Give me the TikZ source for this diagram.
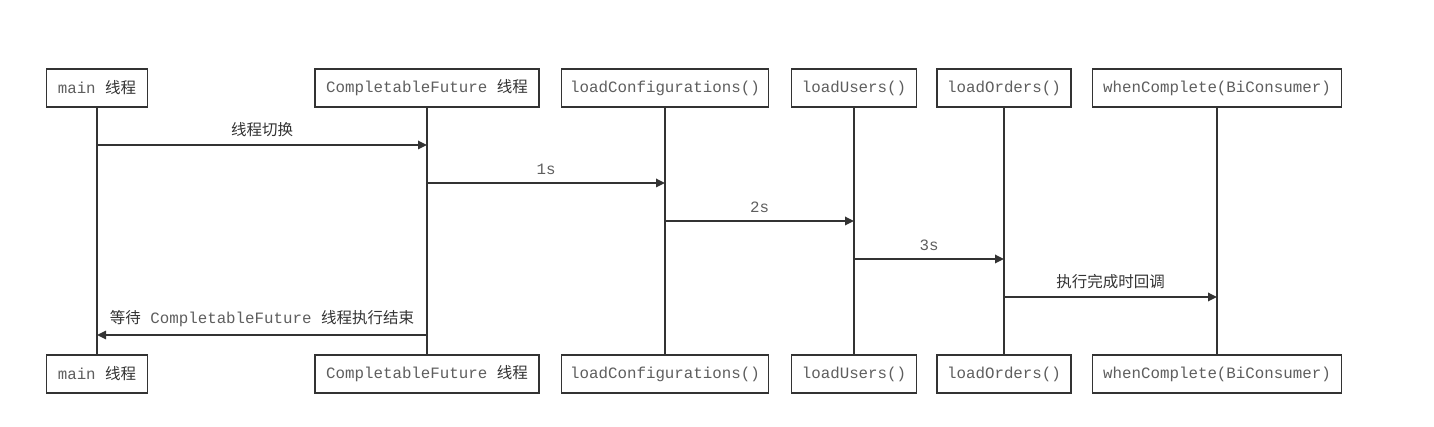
\documentclass[tikz,border=0pt]{standalone}
\usepackage{fontspec}
\newfontfamily\cjk{Noto Sans CJK SC}
\newfontfamily\mono{Liberation Mono}
\usetikzlibrary{arrows.meta}
\definecolor{ln}{HTML}{333333}
\definecolor{mt}{HTML}{5E5E5E}
\begin{document}
\begin{tikzpicture}[x=1pt,y=-1pt,
  box/.style={draw=ln,line width=1.7pt,minimum height=38pt,inner sep=0pt,fill=white},
  life/.style={draw=ln,line width=1.7pt},
  msg/.style={draw=ln,line width=1.7pt,-{Triangle[length=9pt,width=8.5pt]}},
  lbl/.style={inner sep=0pt,anchor=base},
]
\useasboundingbox (0,0) rectangle (1434,427);
\newcommand\cn[1]{{\cjk\fontsize{15.5}{18}\selectfont\color{ln}#1}}
\newcommand\mn[1]{{\mono\fontsize{15.8}{18}\selectfont\color{mt}#1}}
\newcommand\ms{{\mono\fontsize{15.8}{18}\selectfont\ }}
% top boxes
\node[box,minimum width=101pt] (mainT) at (97,88) {\mn{main}\ms\cn{线程}};
\node[box,minimum width=224pt] (cfT) at (427,88) {\mn{CompletableFuture}\ms\cn{线程}};
\node[box,minimum width=207pt] (lcT) at (665,88) {\mn{loadConfigurations()}};
\node[box,minimum width=125pt] (luT) at (854,88) {\mn{loadUsers()}};
\node[box,minimum width=134pt] (loT) at (1004,88) {\mn{loadOrders()}};
\node[box,minimum width=249pt] (wcT) at (1217,88) {\mn{whenComplete(BiConsumer)}};
% bottom boxes
\node[box,minimum width=101pt] (mainB) at (97,374) {\mn{main}\ms\cn{线程}};
\node[box,minimum width=224pt] (cfB) at (427,374) {\mn{CompletableFuture}\ms\cn{线程}};
\node[box,minimum width=207pt] (lcB) at (665,374) {\mn{loadConfigurations()}};
\node[box,minimum width=125pt] (luB) at (854,374) {\mn{loadUsers()}};
\node[box,minimum width=134pt] (loB) at (1004,374) {\mn{loadOrders()}};
\node[box,minimum width=249pt] (wcB) at (1217,374) {\mn{whenComplete(BiConsumer)}};
% lifelines
\draw[life] (mainT) -- (mainB);
\draw[life] (cfT) -- (cfB);
\draw[life] (lcT) -- (lcB);
\draw[life] (luT) -- (luB);
\draw[life] (loT) -- (loB);
\draw[life] (wcT) -- (wcB);
% message anchor coordinates
\coordinate (m1a) at (mainT.south |- 0,145);
\coordinate (m1b) at (cfT.south |- 0,145);
\coordinate (m2a) at (cfT.south |- 0,183);
\coordinate (m2b) at (lcT.south |- 0,183);
\coordinate (m3a) at (lcT.south |- 0,221);
\coordinate (m3b) at (luT.south |- 0,221);
\coordinate (m4a) at (luT.south |- 0,259);
\coordinate (m4b) at (loT.south |- 0,259);
\coordinate (m5a) at (loT.south |- 0,297);
\coordinate (m5b) at (wcT.south |- 0,297);
\coordinate (m6a) at (cfT.south |- 0,335);
\coordinate (m6b) at (mainT.south |- 0,335);
\draw[msg] (m1a) -- node[lbl,above=7pt] (l1) {\cn{线程切换}} (m1b);
\draw[msg] (m2a) -- node[lbl,above=7pt] (l2) {\mn{1s}} (m2b);
\draw[msg] (m3a) -- node[lbl,above=7pt] (l3) {\mn{2s}} (m3b);
\draw[msg] (m4a) -- node[lbl,above=7pt] (l4) {\mn{3s}} (m4b);
\draw[msg] (m5a) -- node[lbl,above=7pt] (l5) {\cn{执行完成时回调}} (m5b);
\draw[msg] (m6a) -- node[lbl,above=7pt] (l6) {\cn{等待}\ms\mn{CompletableFuture}\ms\cn{线程执行结束}} (m6b);
\end{tikzpicture}
\end{document}
